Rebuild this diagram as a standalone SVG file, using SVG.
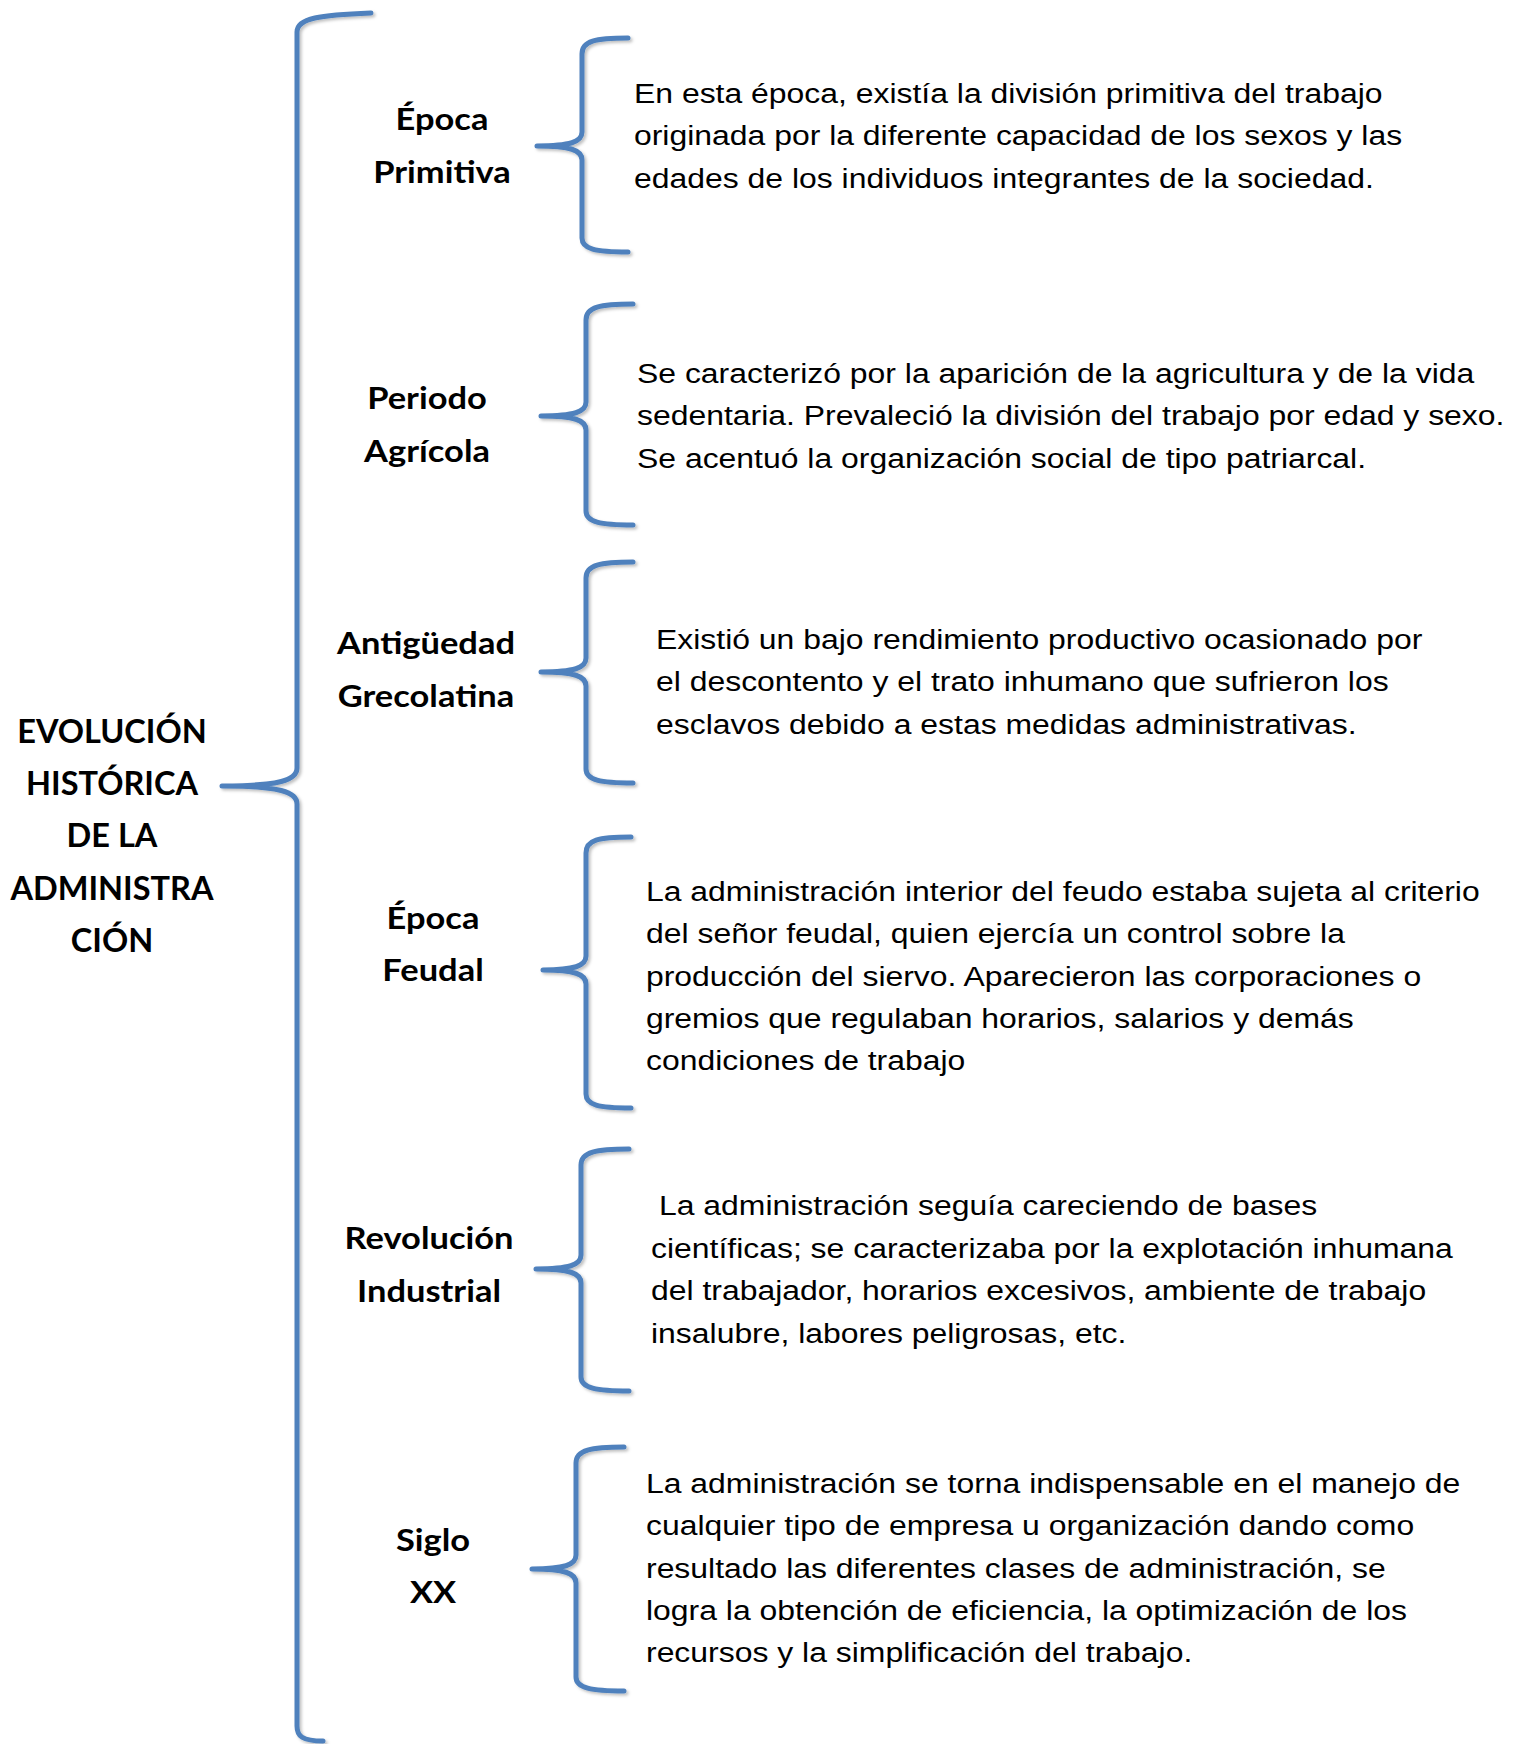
<svg xmlns="http://www.w3.org/2000/svg" width="1522" height="1744" viewBox="0 0 1522 1744">
<defs>
<style>
.br{fill:none;stroke:#4F81BD;stroke-width:5;stroke-linecap:round;stroke-linejoin:round;filter:url(#sh)}
.lb{font-family:Lato,"Open Sans",sans-serif;font-weight:bold;font-size:30.5px;fill:#000;text-anchor:middle}
.tt{font-family:Lato,"Open Sans",sans-serif;font-weight:bold;font-size:32.5px;fill:#000;text-anchor:middle}
.tx{font-family:'Liberation Sans',Arial,Helvetica,sans-serif;font-size:28px;fill:#000}
</style>
<filter id="sh" x="-20%" y="-5%" width="140%" height="110%">
<feDropShadow dx="2" dy="2" stdDeviation="1.5" flood-color="#000" flood-opacity="0.25"/>
</filter>
</defs>
<rect width="1522" height="1744" fill="#fff"/>
<g id="connectors">
<path class="br" d="M371,13 C320,15 297,18 297,32 L297,768 C297,780 280,786 222,786 C280,786 297,792 297,804 L297,1726 C297,1736 302,1741 323,1741"/>
<path class="br" d="M628,38 C595,38 582,41 582,54 L582,132 C582,142 570,146 537,146 C570,146 582,150 582,160 L582,238 C582,249 595,252 628,252"/>
<path class="br" d="M633,304 C600,304 586,307 586,320 L586,402 C586,412 574,416 541,416 C574,416 586,420 586,430 L586,511 C586,522 600,525 633,525"/>
<path class="br" d="M633,562 C600,562 586,565 586,578 L586,658 C586,668 574,672 541,672 C574,672 586,676 586,686 L586,769 C586,780 600,783 633,783"/>
<path class="br" d="M631,837 C598,837 586,840 586,853 L586,956 C586,966 574,970 543,970 C574,970 586,974 586,984 L586,1094 C586,1105 598,1108 631,1108"/>
<path class="br" d="M629,1149 C596,1149 581,1152 581,1165 L581,1255 C581,1265 569,1269 536,1269 C569,1269 581,1273 581,1283 L581,1377 C581,1388 596,1391 629,1391"/>
<path class="br" d="M624,1447 C591,1447 576,1450 576,1463 L576,1555 C576,1565 564,1569 532,1569 C564,1569 576,1573 576,1583 L576,1677 C576,1688 591,1691 624,1691"/>
</g>
<g id="title">
<text class="tt" x="112" y="743">EVOLUCIÓN</text>
<text class="tt" x="112" y="795">HISTÓRICA</text>
<text class="tt" x="112" y="847">DE LA</text>
<text class="tt" x="112" y="900">ADMINISTRA</text>
<text class="tt" x="112" y="952">CIÓN</text>
</g>
<g id="n1">
<text class="lb" transform="translate(442,0) scale(1.13,1)"><tspan x="0" y="130">Época</tspan><tspan x="0" y="183">Primitiva</tspan></text>
<text class="tx" transform="translate(634,0) scale(1.14,1)"><tspan x="0" y="103">En esta época, existía la división primitiva del trabajo</tspan><tspan x="0" y="145.3">originada por la diferente capacidad de los sexos y las</tspan><tspan x="0" y="187.6">edades de los individuos integrantes de la sociedad.</tspan></text>
</g>
<g id="n2">
<text class="lb" transform="translate(427,0) scale(1.13,1)"><tspan x="0" y="409">Periodo</tspan><tspan x="0" y="462">Agrícola</tspan></text>
<text class="tx" transform="translate(637,0) scale(1.14,1)"><tspan x="0" y="383">Se caracterizó por la aparición de la agricultura y de la vida</tspan><tspan x="0" y="425.3">sedentaria. Prevaleció la división del trabajo por edad y sexo.</tspan><tspan x="0" y="467.6">Se acentuó la organización social de tipo patriarcal.</tspan></text>
</g>
<g id="n3">
<text class="lb" transform="translate(426,0) scale(1.13,1)"><tspan x="0" y="654">Antigüedad</tspan><tspan x="0" y="707">Grecolatina</tspan></text>
<text class="tx" transform="translate(656,0) scale(1.14,1)"><tspan x="0" y="649">Existió un bajo rendimiento productivo ocasionado por</tspan><tspan x="0" y="691.3">el descontento y el trato inhumano que sufrieron los</tspan><tspan x="0" y="733.6">esclavos debido a estas medidas administrativas.</tspan></text>
</g>
<g id="n4">
<text class="lb" transform="translate(433,0) scale(1.13,1)"><tspan x="0" y="929">Época</tspan><tspan x="0" y="981">Feudal</tspan></text>
<text class="tx" transform="translate(646,0) scale(1.14,1)"><tspan x="0" y="901">La administración interior del feudo estaba sujeta al criterio</tspan><tspan x="0" y="943.3">del señor feudal, quien ejercía un control sobre la</tspan><tspan x="0" y="985.6">producción del siervo. Aparecieron las corporaciones o</tspan><tspan x="0" y="1027.9">gremios que regulaban horarios, salarios y demás</tspan><tspan x="0" y="1070.2">condiciones de trabajo</tspan></text>
</g>
<g id="n5">
<text class="lb" transform="translate(429,0) scale(1.13,1)"><tspan x="0" y="1249">Revolución</tspan><tspan x="0" y="1302">Industrial</tspan></text>
<text class="tx" transform="translate(651,0) scale(1.14,1)"><tspan x="7" y="1215">La administración seguía careciendo de bases</tspan><tspan x="0" y="1258">científicas; se caracterizaba por la explotación inhumana</tspan><tspan x="0" y="1300.3">del trabajador, horarios excesivos, ambiente de trabajo</tspan><tspan x="0" y="1342.6">insalubre, labores peligrosas, etc.</tspan></text>
</g>
<g id="n6">
<text class="lb" transform="translate(433,0) scale(1.13,1)"><tspan x="0" y="1551">Siglo</tspan><tspan x="0" y="1603">XX</tspan></text>
<text class="tx" transform="translate(646,0) scale(1.14,1)"><tspan x="0" y="1493">La administración se torna indispensable en el manejo de</tspan><tspan x="0" y="1535.3">cualquier tipo de empresa u organización dando como</tspan><tspan x="0" y="1577.6">resultado las diferentes clases de administración, se</tspan><tspan x="0" y="1619.9">logra la obtención de eficiencia, la optimización de los</tspan><tspan x="0" y="1662.2">recursos y la simplificación del trabajo.</tspan></text>
</g>
</svg>
